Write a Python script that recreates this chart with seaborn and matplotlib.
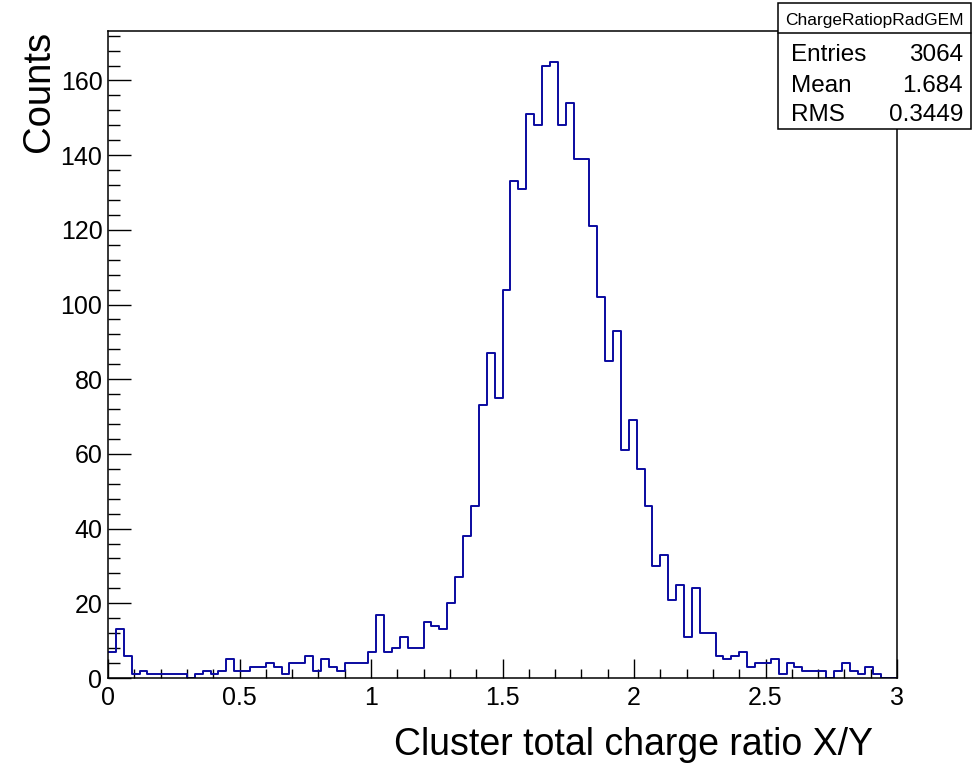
import numpy as np
import pandas as pd
import matplotlib
matplotlib.use('Agg')
import matplotlib.pyplot as plt
from matplotlib.ticker import MultipleLocator, FormatStrFormatter
from matplotlib.patches import Rectangle
import seaborn as sns

# histogram: 100 bins from 0 to 3
bin_edges = [round(i * 0.03, 2) for i in range(101)]
counts = [7, 13, 6, 1, 2, 1, 1, 1, 1, 1,
          0, 1, 2, 1, 2, 5, 2, 2, 3, 3,
          4, 3, 1, 4, 4, 6, 2, 5, 3, 2,
          4, 4, 4, 7, 17, 7, 8, 11, 8, 8,
          15, 14, 13, 20, 27, 38, 46, 73, 87, 75,
          104, 133, 131, 151, 148, 164, 165, 148, 154, 139,
          139, 121, 102, 85, 93, 61, 69, 56, 46, 30,
          33, 21, 25, 11, 24, 12, 12, 6, 5, 6,
          7, 3, 4, 4, 5, 1, 4, 3, 2, 2,
          2, 0, 2, 4, 2, 1, 3, 1, 0, 0]
stat_names = ['Entries', 'Mean', 'RMS']
stat_values = ['3064', '1.684', '0.3449']
hist_name = 'ChargeRatiopRadGEM'

centers = [(a + b) / 2 for a, b in zip(bin_edges[:-1], bin_edges[1:])]
df = pd.DataFrame({'ratio': centers, 'n': counts})

sns.set_style('ticks')
plt.rcParams['font.family'] = ['Liberation Sans', 'DejaVu Sans']
plt.rcParams['text.color'] = 'black'
plt.rcParams['xtick.labelcolor'] = 'black'
plt.rcParams['ytick.labelcolor'] = 'black'

W, H = 974, 763
fig = plt.figure(figsize=(W / 100, H / 100), dpi=100)
ax = fig.add_axes([108 / W, 1 - 678 / H, (897 - 108) / W, (678 - 31) / H])

sns.histplot(data=df, x='ratio', weights='n', bins=bin_edges, element='step',
             fill=False, color='#0a0aa0', linewidth=1.4, ax=ax)

ax.set_xlim(0, 3)
ax.set_ylim(0, 1.05 * max(counts))
ax.set_xlabel('')
ax.set_ylabel('')
ax.xaxis.set_major_locator(MultipleLocator(0.5))
ax.xaxis.set_minor_locator(MultipleLocator(0.1))
ax.yaxis.set_major_locator(MultipleLocator(20))
ax.yaxis.set_minor_locator(MultipleLocator(4))
ax.xaxis.set_major_formatter(FormatStrFormatter('%g'))
ax.yaxis.set_major_formatter(FormatStrFormatter('%g'))
ax.tick_params(axis='both', which='both', direction='in', labelsize=18,
               width=1, color='black', labelcolor='black', top=False, right=False)
ax.tick_params(axis='x', which='major', length=13.5, pad=6)
ax.tick_params(axis='x', which='minor', length=6.5)
ax.tick_params(axis='y', which='major', length=16.5, pad=4)
ax.tick_params(axis='y', which='minor', length=8.5)
for s in ax.spines.values():
    s.set_visible(True)
    s.set_linewidth(1.1)
    s.set_color('black')

fig.text(873 / W, 8 / H, 'Cluster total charge ratio X/Y', fontsize=27,
         ha='right', va='baseline', color='black')
fig.text(39 / W, 1 - 31 / H, 'Counts', fontsize=27.5, rotation=90,
         ha='center', va='top', color='black')

# stats box
fig.patches.append(Rectangle((778 / W, 1 - 129 / H), (971 - 778) / W, (129 - 3) / H,
                             transform=fig.transFigure, facecolor='white',
                             edgecolor='black', linewidth=1.1, zorder=5))
fig.lines.append(plt.Line2D([778 / W, 971 / W], [1 - 33 / H, 1 - 33 / H],
                            transform=fig.transFigure, color='black',
                            linewidth=1.1, zorder=6))
fig.text(874.5 / W, 1 - 25 / H, hist_name, fontsize=12.5, ha='center',
         va='baseline', zorder=7, color='black')
baselines = [61, 92, 121]
for name, val, yb in zip(stat_names, stat_values, baselines):
    fig.text(791 / W, 1 - yb / H, name, fontsize=17.5, ha='left',
             va='baseline', zorder=7, color='black')
    fig.text(963 / W, 1 - yb / H, val, fontsize=17.5, ha='right',
             va='baseline', zorder=7, color='black')

fig.savefig('out.png', dpi=100, facecolor='white')
